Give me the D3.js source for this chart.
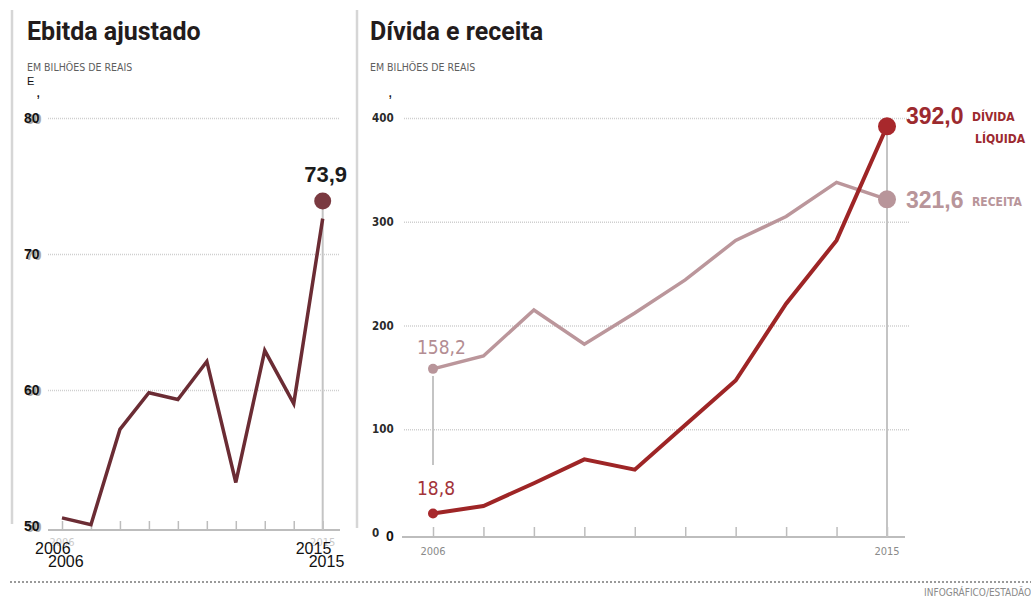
<!DOCTYPE html>
<head>
  <meta charset="utf-8">
  <script src="https://d3js.org/d3.v7.min.js"></script>
  <style>
    body { margin: 0; background: #fff; }
    svg { width: 1031px; height: 598px; display: block; }
    .cond { font-family: "DejaVu Sans Condensed", "Liberation Sans Narrow", sans-serif; }
  </style>
</head>
<body>
  <svg></svg>
  <script>
    // data
    const years = [2006, 2007, 2008, 2009, 2010, 2011, 2012, 2013, 2014, 2015];
    const ebitda = [50.6, 50.1, 57.1, 59.8, 59.3, 62.1, 53.2, 62.9, 59.0, 73.9];
    const divida = [18.8, 26, 48, 71, 61, 104, 147, 221, 282, 392.0];
    const receita = [158.2, 170.6, 215, 182, 212, 244, 282, 305, 338, 321.6];
    const ebitdaTicks = [50, 60, 70, 80];
    const dividaTicks = [0, 100, 200, 300, 400];
    const yearLabels = ['2006', '2015'];

    const svg = d3.select('svg');
    const grid = '#cfcfcf';

    // panel borders
    svg.append('line').attr('x1', 12).attr('x2', 12).attr('y1', 10).attr('y2', 524)
      .attr('stroke', '#d6d6d6').attr('stroke-width', 2.5);
    svg.append('line').attr('x1', 357).attr('x2', 357).attr('y1', 10).attr('y2', 528)
      .attr('stroke', '#d6d6d6').attr('stroke-width', 2.5);

    // bottom dotted rule + credit
    svg.append('line').attr('x1', 10).attr('x2', 1031).attr('y1', 582).attr('y2', 582)
      .attr('stroke', '#9a9a9a').attr('stroke-width', 2).attr('stroke-dasharray', '2,2');
    svg.append('text').attr('class', 'cond').attr('x', 1031).attr('y', 596)
      .attr('text-anchor', 'end').attr('font-size', 10).attr('fill', '#8a8a8a')
      .text('INFOGRÁFICO/ESTADÃO');

    function titles(x, title) {
      svg.append('text').attr('x', x).attr('y', 40)
        .attr('font-family', 'Roboto, sans-serif').attr('font-weight', 700)
        .attr('font-size', 25).attr('fill', '#231c1c').text(title);
      svg.append('text').attr('class', 'cond').attr('x', x).attr('y', 71)
        .attr('font-size', 10.5).attr('fill', '#5e5e5e').text('EM BILHÕES DE REAIS');
    }

    /*****************************************************
    ** left: ebitda ajustado
    ******************************************************/
    titles(27, 'Ebitda ajustado');
    svg.append('text').attr('x', 27).attr('y', 85).attr('font-family', 'Liberation Sans, sans-serif')
      .attr('font-size', 11).attr('fill', '#111').text('E');
    svg.append('text').attr('x', 36).attr('y', 97).attr('font-family', 'Liberation Sans, sans-serif')
      .attr('font-size', 16).attr('fill', '#111').text(',');

    const xL = d3.scalePoint().domain(years).range([62, 322.7]);
    const yL = d3.scaleLinear().domain([50, 80]).range([526, 118]);

    const gridL = svg.append('g').attr('transform', 'translate(48,0)')
      .call(d3.axisLeft(yL).tickValues(ebitdaTicks.slice(1)).tickSize(-292).tickFormat(''));
    gridL.select('.domain').remove();
    gridL.selectAll('line').attr('stroke', grid).attr('stroke-width', 1.5).attr('stroke-dasharray', '1,1');

    // tick labels (gray under, black over)
    ebitdaTicks.forEach(v => {
      svg.append('text').attr('x', 26).attr('y', yL(v) + 6).attr('font-family', 'Liberation Sans, sans-serif')
        .attr('font-weight', 700).attr('font-size', 14).attr('fill', '#aaa').text(v);
      svg.append('text').attr('x', 24).attr('y', yL(v) + 5).attr('font-family', 'Liberation Sans, sans-serif')
        .attr('font-weight', 700).attr('font-size', 14).attr('fill', '#111').text(v);
    });

    // x axis
    const axL = svg.append('g').attr('transform', 'translate(0,530)')
      .call(d3.axisBottom(xL).tickSize(-9).tickFormat(''));
    axL.select('.domain').remove();
    axL.selectAll('line').attr('stroke', '#bdbdbd').attr('stroke-width', 1.5);
    svg.append('line').attr('x1', 48).attr('x2', 340).attr('y1', 530).attr('y2', 530)
      .attr('stroke', '#bdbdbd').attr('stroke-width', 2);
    // vertical marker for 2015
    svg.append('line').attr('x1', xL(2015)).attr('x2', xL(2015)).attr('y1', yL(73.9)).attr('y2', 530)
      .attr('stroke', '#c4c4c4').attr('stroke-width', 2);

    yearLabels.forEach(t => {
      const yr = +t;
      svg.append('text').attr('class', 'cond').attr('x', xL(yr)).attr('y', 546)
        .attr('text-anchor', 'middle').attr('font-size', 11).attr('fill', '#cacaca').text(t);
      svg.append('text').attr('x', xL(yr) - 27).attr('y', 554)
        .attr('font-family', 'Liberation Sans, sans-serif').attr('font-size', 16).attr('fill', '#111').text(t);
      svg.append('text').attr('x', xL(yr) - 14).attr('y', 567)
        .attr('font-family', 'Liberation Sans, sans-serif').attr('font-size', 16).attr('fill', '#111').text(t);
    });

    const lineL = d3.line().x((d, i) => xL(years[i])).y(d => yL(d));
    svg.append('path').datum(ebitda.slice(0, 9).concat([72.6]))
      .attr('d', lineL).attr('fill', 'none').attr('stroke', '#6b2c34')
      .attr('stroke-width', 3.5).attr('stroke-linejoin', 'miter');
    svg.append('circle').attr('cx', xL(2015)).attr('cy', yL(73.9)).attr('r', 8.5).attr('fill', '#7a3a41');
    svg.append('text').attr('x', xL(2015) + 3).attr('y', 182).attr('text-anchor', 'middle')
      .attr('font-family', 'Liberation Sans, sans-serif').attr('font-weight', 700)
      .attr('font-size', 22).attr('fill', '#1c1c1c').text('73,9');

    /*****************************************************
    ** right: divida e receita
    ******************************************************/
    titles(370, 'Dívida e receita');
    svg.append('text').attr('x', 388).attr('y', 97).attr('font-family', 'Liberation Sans, sans-serif')
      .attr('font-size', 16).attr('fill', '#111').text(',');

    const xR = d3.scalePoint().domain(years).range([433, 887]);
    const yR = d3.scaleLinear().domain([0, 400]).range([533, 118]);

    const gridR = svg.append('g').attr('transform', 'translate(404,0)')
      .call(d3.axisLeft(yR).tickValues(dividaTicks.slice(1)).tickSize(-506).tickFormat(''));
    gridR.select('.domain').remove();
    gridR.selectAll('line').attr('stroke', grid).attr('stroke-width', 1.5).attr('stroke-dasharray', '1,1');

    dividaTicks.forEach(v => {
      svg.append('text').attr('class', 'cond').attr('x', 372).attr('y', yR(v) + 4)
        .attr('font-size', 11.5).attr('font-weight', 700).attr('fill', '#2a2a2a').text(v);
    });
    svg.append('text').attr('x', 386).attr('y', 541).attr('font-family', 'Liberation Sans, sans-serif')
      .attr('font-weight', 700).attr('font-size', 14).attr('fill', '#111').text('0');

    const axR = svg.append('g').attr('transform', 'translate(0,537)')
      .call(d3.axisBottom(xR).tickSize(-10).tickFormat(''));
    axR.select('.domain').remove();
    axR.selectAll('line').attr('stroke', '#bdbdbd').attr('stroke-width', 1.5);
    svg.append('line').attr('x1', 402).attr('x2', 905).attr('y1', 537).attr('y2', 537)
      .attr('stroke', '#bdbdbd').attr('stroke-width', 2);

    yearLabels.forEach(t => {
      svg.append('text').attr('class', 'cond').attr('x', xR(+t)).attr('y', 555)
        .attr('text-anchor', 'middle').attr('font-size', 11).attr('fill', '#8a8a8a').text(t);
    });

    // vertical markers
    svg.append('line').attr('x1', xR(2006)).attr('x2', xR(2006)).attr('y1', 376).attr('y2', 465)
      .attr('stroke', '#c4c4c4').attr('stroke-width', 2);
    svg.append('line').attr('x1', xR(2015)).attr('x2', xR(2015)).attr('y1', yR(392)).attr('y2', 537)
      .attr('stroke', '#c4c4c4').attr('stroke-width', 2);

    const lineR = d3.line().x((d, i) => xR(years[i])).y(d => yR(d));
    const series = [
      { vals: receita, color: '#bb969b', dot: '#b8959a', w: 3.5 },
      { vals: divida, color: '#9e2526', dot: '#a8282c', w: 4 }
    ];
    series.forEach(s => {
      svg.append('path').datum(s.vals).attr('d', lineR).attr('fill', 'none')
        .attr('stroke', s.color).attr('stroke-width', s.w);
      svg.append('circle').attr('cx', xR(2006)).attr('cy', yR(s.vals[0])).attr('r', 5).attr('fill', s.dot);
      svg.append('circle').attr('cx', xR(2015)).attr('cy', yR(s.vals[9])).attr('r', 9).attr('fill', s.dot);
    });

    // start labels
    svg.append('text').attr('class', 'cond').attr('x', 417).attr('y', 354)
      .attr('font-size', 19).attr('fill', '#b38d93').text('158,2');
    svg.append('text').attr('class', 'cond').attr('x', 417).attr('y', 495)
      .attr('font-size', 19).attr('fill', '#a3343a').text('18,8');

    // end labels
    svg.append('text').attr('x', 906).attr('y', 124).attr('font-family', 'Liberation Sans, sans-serif')
      .attr('font-weight', 700).attr('font-size', 23).attr('fill', '#9c2a2f').text('392,0');
    svg.append('text').attr('class', 'cond').attr('x', 972).attr('y', 121)
      .attr('font-weight', 700).attr('font-size', 12).attr('fill', '#9c2a2f').text('DÍVIDA');
    svg.append('text').attr('class', 'cond').attr('x', 975).attr('y', 143)
      .attr('font-weight', 700).attr('font-size', 12).attr('fill', '#9c2a2f').text('LÍQUIDA');
    svg.append('text').attr('x', 906).attr('y', 208).attr('font-family', 'Liberation Sans, sans-serif')
      .attr('font-weight', 700).attr('font-size', 23).attr('fill', '#b8959a').text('321,6');
    svg.append('text').attr('class', 'cond').attr('x', 972).attr('y', 206)
      .attr('font-weight', 700).attr('font-size', 12).attr('fill', '#b8959a').text('RECEITA');
  </script>
</body>
